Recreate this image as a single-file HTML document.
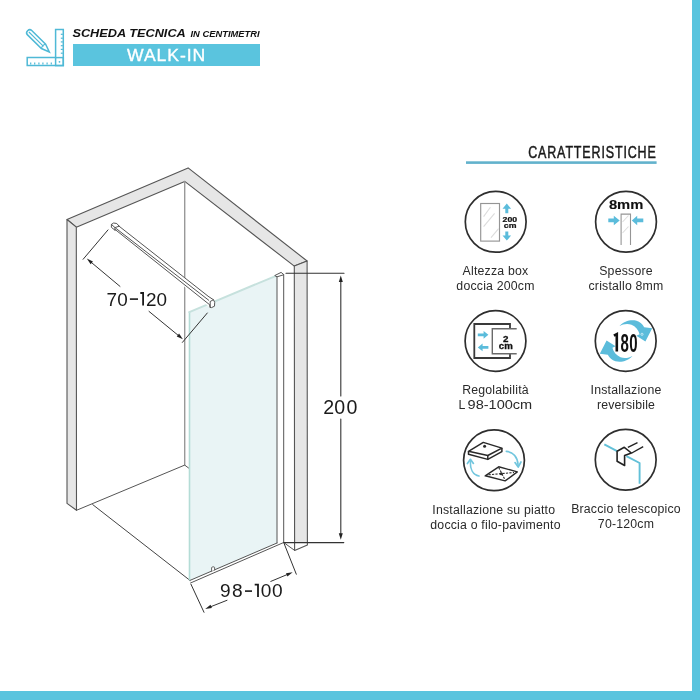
<!DOCTYPE html>
<html><head><meta charset="utf-8">
<style>
html,body{margin:0;padding:0;background:#fff;}
body{width:700px;height:700px;overflow:hidden;position:relative;font-family:"Liberation Sans",sans-serif;}
svg{position:absolute;left:0;top:0;will-change:transform;}
</style></head>
<body>
<svg width="700" height="700" viewBox="0 0 700 700" font-family="Liberation Sans, sans-serif">
<!-- borders -->
<rect x="692" y="0" width="8" height="700" fill="#5ac4de"/>
<rect x="0" y="691" width="700" height="9" fill="#5ac4de"/>

<!-- header icon -->
<g fill="none" stroke="#4fb9d6" stroke-width="1.5" stroke-linejoin="miter">
  <path d="M55.6,57.6 V29.4 H63.3 V65.6 H27.2 V57.6 Z"/>
  <rect x="55.6" y="57.6" width="7.7" height="8"/>
  <g stroke-width="1.2">
    <line x1="60.8" y1="34.3" x2="62.8" y2="34.3"/>
    <line x1="60.8" y1="38.2" x2="62.8" y2="38.2"/>
    <line x1="60.8" y1="41.9" x2="62.8" y2="41.9"/>
    <line x1="60.8" y1="45.7" x2="62.8" y2="45.7"/>
    <line x1="60.8" y1="49.4" x2="62.8" y2="49.4"/>
    <line x1="60.8" y1="53.2" x2="62.8" y2="53.2"/>
    <line x1="30.7" y1="62.4" x2="30.7" y2="64.6"/>
    <line x1="34.7" y1="62.4" x2="34.7" y2="64.6"/>
    <line x1="38.9" y1="62.4" x2="38.9" y2="64.6"/>
    <line x1="42.9" y1="62.4" x2="42.9" y2="64.6"/>
    <line x1="47.1" y1="62.4" x2="47.1" y2="64.6"/>
    <line x1="51.3" y1="62.4" x2="51.3" y2="64.6"/>
  </g>
  <circle cx="59.5" cy="61.8" r="0.9" fill="#4fb9d6" stroke="none"/>
  <g transform="translate(28.9,32) rotate(44.5)">
    <path d="M1,-3 H20.5 L28.6,0 L20.5,3 H1 Q-1.8,3 -1.8,0 Q-1.8,-3 1,-3 Z"/>
    <line x1="0" y1="0" x2="20.5" y2="0" stroke-width="1.1"/>
    <path d="M20.5,-3 Q18.5,0 20.5,3" stroke-width="1.1"/>
  </g>
</g>

<!-- header text -->
<text transform="translate(72.4,37) scale(1.18,1)" font-size="10.8" font-style="italic" font-weight="bold" fill="#111">SCHEDA TECNICA</text>
<text transform="translate(190.5,37) scale(1.15,1)" font-size="8.15" font-style="italic" font-weight="bold" fill="#111">IN CENTIMETRI</text>
<rect x="73" y="44" width="187" height="22" fill="#5ac4de"/>
<text transform="translate(166.6,61.4) scale(1.04,1)" font-size="16.9" text-anchor="middle" fill="#fff" stroke="#fff" stroke-width="0.35" letter-spacing="0.9">WALK-IN</text>

<!-- diagram -->
<g stroke-linejoin="round" stroke-linecap="round">
  <!-- wall top -->
  <polygon points="67,219.5 188.1,167.9 307.1,261 294.3,266.1 184.7,181.4 76.3,227.2" fill="#e6e6e6" stroke="#555" stroke-width="1.1"/>
  <!-- left wall front face -->
  <polygon points="67,219.5 76.3,227.2 76.5,510.3 67,503.4" fill="#e6e6e6" stroke="#555" stroke-width="1.1"/>
  <!-- right wall front face -->
  <polygon points="294.3,266.1 307.1,261 307.4,542.6 294.6,542.6" fill="#e6e6e6" stroke="none"/>
  <polygon points="294.3,266.1 307.1,261 307.4,544.9 294.6,550.4" fill="none" stroke="#555" stroke-width="1.1"/>
  <!-- inner corner -->
  <line x1="184.7" y1="181.4" x2="184.7" y2="465.1" stroke="#999" stroke-width="1.4"/>
  <polyline points="76.5,510.3 184.7,465.1 189.4,468.6" fill="none" stroke="#555" stroke-width="1"/>
  <!-- floor edge -->
  <line x1="92.7" y1="504.6" x2="190" y2="580.4" stroke="#444" stroke-width="1"/>
  <line x1="283.7" y1="542.5" x2="294.6" y2="550.4" stroke="#555" stroke-width="1"/>

  <!-- glass -->
  <polygon points="189.3,312.1 277,275.4 277,543 190,580.4" fill="#e9f4f5"/>
  <line x1="189.5" y1="312" x2="189.5" y2="580" stroke="#b4dcd6" stroke-width="1.6"/>
  <line x1="189.3" y1="312.1" x2="276" y2="275.8" stroke="#c6e1dd" stroke-width="2"/>
  <!-- glass bottom -->
  <line x1="190" y1="580.4" x2="277" y2="543" stroke="#555" stroke-width="1"/>
  <line x1="190.5" y1="583" x2="283.7" y2="542.5" stroke="#555" stroke-width="1"/>
  <path d="M211.6,571 L211.6,567.5 Q213,566 214.6,567.3 L214.6,570" fill="#fff" stroke="#555" stroke-width="0.9"/>
  <!-- profile -->
  <line x1="277" y1="276.5" x2="277" y2="543" stroke="#555" stroke-width="1"/>
  <line x1="283.7" y1="274.7" x2="283.7" y2="542.5" stroke="#555" stroke-width="1"/>
  <polygon points="275.1,275.4 281.1,272.4 283.9,274.7 277.4,276.7" fill="#fff" stroke="#555" stroke-width="1"/>

  <!-- telescopic bar -->
  <polygon points="111.4,224.4 113.6,223 116.8,223.5 208.5,296.5 214.7,302.3 214.5,306.2 211.5,307.6 210,307.4 114,229.5 111.4,227.4" fill="#fff"/>
  <line x1="119.1" y1="226.2" x2="208.5" y2="296.5" stroke="#555" stroke-width="1"/>
  <line x1="116" y1="228.4" x2="210.2" y2="301.4" stroke="#555" stroke-width="1"/>
  <line x1="115" y1="229.4" x2="209.7" y2="304.8" stroke="#555" stroke-width="1"/>
  <path d="M119.1,226.2 L116.8,223.5 L113.6,223 L111.4,224.4 L111.4,227.4 L115,230.2 M111.4,224.4 L115,227.6 L119.1,226.2 M115,227.6 L115,230.2" fill="none" stroke="#555" stroke-width="1"/>
  <path d="M208.5,296.5 L213.4,299.7 L214.7,302.3 L214.5,306.2 L211.5,307.6 L210,307.4 L209.6,304.8 M213.4,299.7 L210.2,301.5 L210.2,307.4" fill="#fff" stroke="#555" stroke-width="1"/>

  <!-- dims 70-120 -->
  <line x1="108" y1="229.9" x2="83.1" y2="259.3" stroke="#333" stroke-width="1"/>
  <line x1="207.3" y1="313" x2="182.4" y2="342.4" stroke="#333" stroke-width="1"/>
  <line x1="90" y1="261.3" x2="120" y2="286.4" stroke="#333" stroke-width="1"/>
  <line x1="149" y1="311.4" x2="179" y2="336" stroke="#333" stroke-width="1"/>
  <polygon points="86.8,258.6 92.96,261.42 90.64,264.18" fill="#222"/>
  <polygon points="182.9,339.2 176.74,336.38 179.06,333.62" fill="#222"/>

  <!-- dims 200 -->
  <line x1="286" y1="273.3" x2="344" y2="273.3" stroke="#333" stroke-width="1.1"/>
  <line x1="284" y1="542.6" x2="343.8" y2="542.6" stroke="#333" stroke-width="1.1"/>
  <line x1="340.8" y1="280" x2="340.8" y2="395.9" stroke="#333" stroke-width="1.1"/>
  <line x1="340.8" y1="419" x2="340.8" y2="534" stroke="#333" stroke-width="1.1"/>
  <polygon points="340.8,275.4 342.8,282 338.8,282" fill="#222"/>
  <polygon points="340.8,539.8 342.8,533.2 338.8,533.2" fill="#222"/>

  <!-- dims 98-100 -->
  <line x1="191" y1="584.3" x2="204" y2="612.3" stroke="#333" stroke-width="1"/>
  <line x1="283.7" y1="542.5" x2="296.3" y2="574.2" stroke="#333" stroke-width="1"/>
  <line x1="209" y1="607.4" x2="227" y2="600.3" stroke="#333" stroke-width="1"/>
  <line x1="270.8" y1="581.4" x2="289" y2="573.8" stroke="#333" stroke-width="1"/>
  <polygon points="205.2,608.9 211.89,608.06 210.51,604.74" fill="#222"/>
  <polygon points="292.7,572.3 287.39,576.46 286.01,573.14" fill="#222"/>
</g>
<text x="106.6 117.3" y="305.5" font-size="18.9" fill="#1a1a1a">70</text><text x="145.9 156.4" y="305.5" font-size="18.9" fill="#1a1a1a">20</text>
<path d="M140.3,293 H143.1 V305.5" fill="none" stroke="#1a1a1a" stroke-width="1.8"/>
<rect x="129.9" y="298.3" width="8.1" height="1.6" fill="#1a1a1a"/>
<text x="323.2 334.3 346.4" y="414.4" font-size="19.6" fill="#1a1a1a">200</text>
<text x="219.9 231.9" y="597" font-size="19.1" fill="#1a1a1a">98</text><text x="260.8 272.1" y="597" font-size="19.1" fill="#1a1a1a">00</text>
<path d="M254.7,584.6 H258 V597" fill="none" stroke="#1a1a1a" stroke-width="1.8"/>
<rect x="245" y="590.3" width="7" height="1.6" fill="#1a1a1a"/>

<!-- right panel -->
<text transform="translate(528.2,157.7) scale(0.79,1)" font-size="15.8" fill="#1a1a1a" stroke="#1a1a1a" stroke-width="0.5" letter-spacing="1.1">CARATTERISTICHE</text>
<rect x="466" y="161.3" width="190.6" height="2.6" fill="#62b2cc"/>

<g fill="none" stroke="#2e2e2e" stroke-width="1.7">
  <circle cx="495.7" cy="221.8" r="30.4"/>
  <circle cx="626" cy="221.8" r="30.4"/>
  <circle cx="495.5" cy="341" r="30.4"/>
  <circle cx="625.7" cy="341" r="30.4"/>
  <circle cx="494" cy="460.3" r="30.4"/>
  <circle cx="625.7" cy="459.8" r="30.4"/>
</g>
<!-- icon1 -->
<g>
  <rect x="480.7" y="203.5" width="18.8" height="37.6" fill="none" stroke="#959595" stroke-width="1.15"/>
  <g stroke="#dcdcdc" stroke-width="1.1">
    <line x1="483.6" y1="216.6" x2="490.4" y2="207.3"/>
    <line x1="483.6" y1="226.6" x2="494.6" y2="213.4"/>
    <line x1="491" y1="237.6" x2="498.6" y2="228.7"/>
  </g>
  <path d="M506.8,203.6 L511.1,208.8 L508.3,208.8 L508.3,213.2 L505.3,213.2 L505.3,208.8 L502.5,208.8 Z" fill="#5bbcdb"/>
  <path d="M506.8,240.6 L511.1,235.6 L508.3,235.6 L508.3,231.4 L505.3,231.4 L505.3,235.6 L502.5,235.6 Z" fill="#5bbcdb"/>
  <text transform="translate(509.8,221.7) scale(1.15,1)" font-size="7.6" font-weight="bold" text-anchor="middle" fill="#111" stroke="#111" stroke-width="0.25">200</text>
  <text transform="translate(510.1,228) scale(1.15,1)" font-size="7.6" font-weight="bold" text-anchor="middle" fill="#111" stroke="#111" stroke-width="0.25">cm</text>
</g>
<!-- icon2 -->
<g>
  <text transform="translate(626.1,209) scale(1.19,1)" font-size="12.4" font-weight="bold" text-anchor="middle" fill="#111" stroke="#111" stroke-width="0.12">8mm</text>
  <path d="M621.1,245 V214.1 H630.5 V245" fill="none" stroke="#959595" stroke-width="1.1"/>
  <g stroke="#dcdcdc" stroke-width="1.1">
    <line x1="622.5" y1="222" x2="628.5" y2="215.5"/>
    <line x1="622.5" y1="233" x2="628.5" y2="226.5"/>
  </g>
  <path d="M608.3,218.6 H613.8 V215.8 L619.7,220.4 L613.8,225.2 V222.3 H608.3 Z" fill="#5bbcdb"/>
  <path d="M643.3,218.6 H637.2 V215.8 L631.8,220.4 L637.2,225.2 V222.3 H643.3 Z" fill="#5bbcdb"/>
</g>
<!-- icon3 -->
<g fill="none">
  <path d="M510,328.5 V324 H474.3 V358 H510 V353.6" stroke="#3a3a3a" stroke-width="1.8"/>
  <path d="M516.7,328.8 H492.3 V353.8 H516.7" stroke="#6a6a6a" stroke-width="1.4"/>
  <path d="M477.8,333.4 H483.6 V330.9 L488.4,334.8 L483.6,338.7 V336.2 H477.8 Z" fill="#5bbcdb"/>
  <path d="M488.4,346 H482.6 V343.5 L477.8,347.4 L482.6,351.3 V348.8 H488.4 Z" fill="#5bbcdb"/>
  <text x="505.8" y="342.4" font-size="9.8" font-weight="bold" text-anchor="middle" fill="#111" stroke="#111" stroke-width="0.3">2</text>
  <text transform="translate(505.8,348.6) scale(1.12,1)" font-size="8.6" font-weight="bold" text-anchor="middle" fill="#111" stroke="#111" stroke-width="0.3">cm</text>
</g>
<!-- icon4 -->
<g>
  <path id="arr180" d="M619.4,326.3 C624,320.8 631,319.5 636.5,320.8 C640,321.8 642.5,324 644.2,327.2 L652.2,328.2 L645.4,341.6 L636.4,335.8 L639.6,334.2 C638.5,330 635.5,326.5 631.5,324.8 C627.5,323.3 623,324 619.4,326.3 Z" fill="#5bbcdb"/>
  <use href="#arr180" transform="rotate(180 626 341)"/>
  <text transform="translate(620.6,351.6) scale(0.6,1)" font-size="25" font-weight="bold" fill="#111" letter-spacing="0.5">80</text>
  <path d="M613.9,335.6 L616.8,334.1 V351.6" fill="none" stroke="#111" stroke-width="2.6" stroke-linejoin="miter"/>
  <circle cx="642" cy="334.3" r="1.1" fill="none" stroke="#fff" stroke-width="0.6"/>
</g>
<!-- icon5 -->
<g fill="none" stroke="#2a2a2a" stroke-width="1.5" stroke-linejoin="round">
  <path d="M468.5,451.3 L483.3,442.4 L501.9,448.1 L487.8,455.5 Z" fill="#fff"/>
  <path d="M468.5,451.3 V454.2 L487.8,459.4 L501.9,451.6 V448.1"/>
  <line x1="487.8" y1="455.5" x2="487.8" y2="459.4"/>
  <circle cx="484.6" cy="446.2" r="1.5" fill="#2a2a2a" stroke="none"/>
  <path d="M485.2,475.8 L498.7,466.8 L517.3,471.9 L505.1,480.9 Z" stroke-width="1.4"/>
  <g stroke-dasharray="2.2,1.3" stroke-width="1.1">
    <line x1="488.5" y1="474.8" x2="514" y2="472.5"/>
    <line x1="498.7" y1="467.5" x2="505.1" y2="480"/>
  </g>
  <circle cx="501.3" cy="473.8" r="1.5" fill="#2a2a2a" stroke="none"/>
  <g stroke="#72c6de" stroke-width="1.7" stroke-linecap="round">
    <path d="M506.3,451.3 C513,452 517.5,457 518,464.5"/>
    <path d="M515,462.6 L518.2,467 L521,462"/>
    <path d="M479,476 C473,475 470,469 470.4,461"/>
    <path d="M467.4,463.6 L470.4,459.3 L473.4,463.4"/>
  </g>
</g>
<!-- icon6 -->
<g fill="none" stroke-linejoin="round">
  <polyline points="604.3,444.4 617.1,451.2" stroke="#62c0d8" stroke-width="1.9"/>
  <polyline points="626.4,456.2 639.6,463 639.6,483.7" stroke="#62c0d8" stroke-width="1.9"/>
  <path d="M617.1,451.2 V461.2 L624.6,465.5 V455.5 L631.4,453 L624.3,447.3 Z" stroke="#222" stroke-width="1.6"/>
  <line x1="627.9" y1="447.3" x2="637.5" y2="442.6" stroke="#222" stroke-width="1.4"/>
  <line x1="631.8" y1="453" x2="643.2" y2="446.6" stroke="#222" stroke-width="1.4"/>
</g>
<g font-size="12.3" text-anchor="middle" fill="#2a2a2a" letter-spacing="0.2">
  <text x="495.5" y="275">Altezza box</text>
  <text x="495.5" y="290">doccia 200cm</text>
  <text x="626" y="275">Spessore</text>
  <text x="626" y="290">cristallo 8mm</text>
  <text x="495.5" y="394.3">Regolabilità</text>
  <text x="458.4" y="409.2" text-anchor="start" letter-spacing="0">L</text><text x="467.6" y="409.2" text-anchor="start" letter-spacing="0" textLength="64.6" lengthAdjust="spacingAndGlyphs">98-100cm</text>
  <text x="626" y="394.3">Installazione</text>
  <text x="626" y="409.3">reversibile</text>
  <text x="493.8" y="514">Installazione su piatto</text>
  <text x="495.5" y="529">doccia o filo-pavimento</text>
  <text x="626" y="513">Braccio telescopico</text>
  <text x="626" y="528">70-120cm</text>
</g>
</svg>
</body></html>
